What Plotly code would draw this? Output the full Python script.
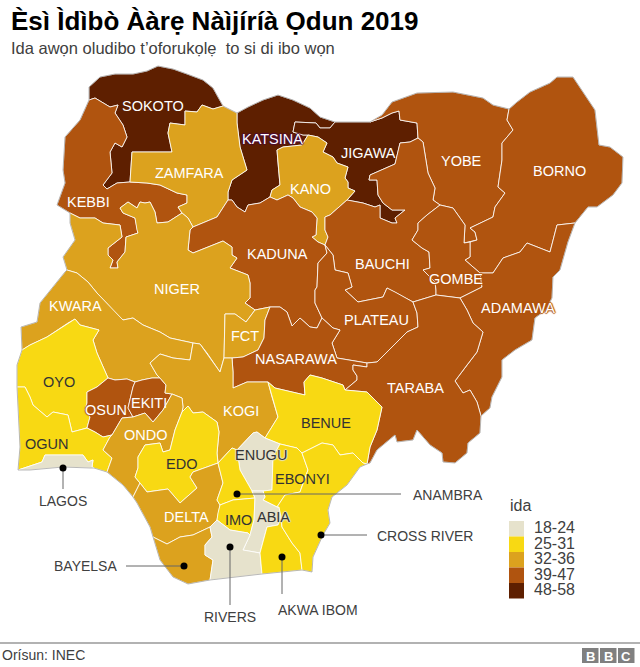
import plotly.graph_objects as go

# Borders are shared arcs in picture coordinates
def r(arc):
    return arc[::-1]

# outer border, clockwise from the north west
N_SOK = [(89,100),(89,87),(100,77),(115,74),(133,74),(147,71),(158,66),(173,69),(187,74),(203,80),(213,88),(223,106)]
N_ZAM = [(223,106),(229,109),(237,113)]
N_KAT = [(237,113),(248,107),(263,100),(278,95),(293,100),(310,108),(320,117),(335,122)]
N_JIG = [(335,122),(370,122)]
N_YOB = [(370,122),(382,115),(392,102),(417,93),(453,92),(483,98),(493,105),(509,109)]
E_BOR = [(509,109),(517,102),(530,92),(550,83),(557,77),(573,77),(583,92),(595,110),(599,145),(610,147),(623,157),(622,183),(613,195),(597,207),(588,207),(575,223)]
E_ADA = [(575,223),(568,242),(560,270),(553,277),(552,290),(552,298),(546,310),(535,318),(532,340),(515,350),(502,360),(502,377),(492,397),(490,408),(481,416)]
E_TAR = [(481,416),(480,433),(468,443),(467,453),(455,463),(443,462),(442,453),(430,445),(417,430),(413,440),(397,442),(395,435),(377,450),(370,463),(367,464)]
E_CRO = [(367,464),(360,467),(347,485),(332,497),(328,510),(330,523),(323,535),(313,557),(312,572)]
S_CRO = [(312,572),(302,570)]
S_AKW = [(302,570),(262,574)]
S_RIV = [(262,574),(237,577),(210,580)]
S_BAY = [(210,580),(188,584),(173,577),(160,560),(153,537)]
S_DEL = [(153,537),(150,527),(137,503),(133,497)]
S_OND = [(133,497),(123,485),(107,472)]
S_OGU = [(107,472),(94,468)]
S_LAG = [(94,468),(90,468),(63,467),(30,470),(18,470)]
W_OGU = [(18,470),(20,447),(17,387)]
W_OYO = [(17,387),(17,365),(22,350)]
W_KWA = [(22,350),(21,327),(37,322),(40,303),(65,272),(67,270)]
W_NIG = [(67,270),(63,257),(75,240),(70,223),(70,213)]
W_KEB = [(70,213),(57,205),(65,183),(63,170),(65,137),(80,120),(89,100)]

# inner borders
SOK_KEB = [(89,100),(95,98),(110,107),(118,105),(115,113),(123,125),(127,137),(122,147),(115,143),(110,152),(112,173),(103,185),(107,189),(117,183),(130,182)]
SOK_ZAM = [(130,182),(132,152),(172,152),(168,133),(170,123),(185,125),(185,111),(197,112),(202,105),(213,109),(223,106)]
KEB_ZAM = [(130,182),(147,183),(160,185),(177,193),(187,195),(187,203),(178,207),(182,213)]
KEB_NIG = [(182,213),(168,222),(157,223),(155,212),(150,202),(145,203),(140,202),(137,208),(128,202),(120,208),(123,213),(135,218),(137,230),(138,233),(126,237),(125,252),(117,262),(118,268),(110,268),(113,260),(108,255),(108,248),(122,237),(120,225),(103,223),(95,218),(80,218),(70,213)]
ZAM_NIG = [(182,213),(188,218),(193,227)]
ZAM_KAD = [(193,227),(217,217),(228,200)]
ZAM_KAT = [(237,113),(237,123),(240,147),(247,170),(232,180),(228,192),(228,200)]
KAT_JIG = [(335,122),(330,128),(320,128),(316,123),(295,122),(293,132),(303,135),(308,135)]
KAT_KAN = [(308,135),(302,145),(283,147),(277,150),(278,163),(280,185),(272,190),(270,197)]
KAT_KAD = [(270,197),(260,203),(248,205),(245,212),(237,207),(232,200),(228,200)]
KAN_JIG = [(308,135),(318,137),(327,143),(323,152),(333,157),(337,163),(348,167),(345,178),(348,182),(348,188),(355,191),(347,200)]
KAN_BAU = [(347,200),(330,215),(325,217),(325,230),(328,237),(325,245)]
KAN_KAD = [(325,245),(318,242),(312,237),(316,235),(317,218),(312,212),(300,207),(293,198),(288,195),(277,200),(270,197)]
JIG_BAU = [(347,200),(363,203),(375,207),(380,205),(380,218),(392,223),(397,223),(395,218),(405,210),(392,210),(383,203),(378,195),(377,180),(369,180),(370,175),(395,164),(400,143),(410,142),(418,138)]
JIG_YOB = [(370,122),(382,118),(392,113),(399,111),(400,120),(417,123),(418,138)]
YOB_BOR = [(509,109),(507,120),(513,130),(502,143),(502,160),(498,187),(505,193),(495,207),(493,217),(470,228),(475,232),(477,240),(470,242)]
YOB_GOM = [(470,242),(464,243),(465,225),(453,208),(440,205)]
YOB_BAU = [(440,205),(433,200),(435,188),(428,173),(423,142),(418,138)]
BOR_GOM = [(470,242),(470,257),(465,260),(480,273)]
BOR_ADA = [(480,273),(493,273),(503,258),(520,252),(527,243),(550,252),(557,225),(575,223)]
GOM_ADA = [(480,273),(482,287),(460,298)]
GOM_TAR = [(460,298),(436,295)]
GOM_BAU = [(436,295),(436,290),(435,282),(423,270),(430,268),(429,252),(422,248),(412,240),(418,230),(418,223),(427,215),(440,205)]
BAU_TAR = [(436,295),(413,302)]
BAU_PLA = [(413,302),(395,292),(387,288),(383,297),(358,302),(345,290),(352,287),(348,273),(335,270),(333,255),(325,245)]
PLA_TAR = [(413,302),(417,313),(418,327),(407,332),(397,342),(377,362),(367,363)]
PLA_NAS = [(367,363),(350,360),(337,358),(332,343),(340,330),(333,328),(322,318)]
PLA_KAD = [(322,318),(315,303),(315,290),(317,287),(318,263),(327,253),(325,245)]
KAD_NAS = [(322,318),(317,328),(310,327),(300,318),(292,326),(287,312),(280,307),(270,307)]
KAD_FCT = [(270,307),(255,310)]
KAD_NIG = [(255,310),(245,303),(250,298),(250,283),(248,275),(230,268),(237,258),(232,255),(232,247),(223,241),(213,245),(193,253),(188,250),(190,230),(193,227)]
FCT_NIG = [(255,310),(246,322),(235,314),(225,314),(224,358)]
FCT_KOG = [(224,358),(232,358)]
FCT_NAS = [(232,358),(243,357),(258,350),(264,338),(265,320),(270,307)]
NIG_KOG = [(224,358),(220,372),(207,353),(200,344),(193,343)]
NIG_KWA = [(193,343),(170,338),(160,332),(143,325),(133,318),(123,320),(113,310),(97,293),(88,282),(77,273),(67,270)]
KWA_KOG = [(193,343),(190,360),(173,358),(160,354),(150,363),(157,375),(160,378)]
KWA_EKI = [(160,378),(152,378),(142,380),(135,382)]
KWA_OSU = [(135,382),(127,379),(115,380),(108,378)]
OYO_KWA = [(108,378),(97,353),(93,340),(99,330),(80,325),(75,319),(68,323),(47,337),(30,345),(22,350)]
OYO_OSU = [(108,378),(97,387),(87,392),(87,403),(85,410),(90,417),(87,428)]
OGU_OYO = [(17,387),(25,387),(30,397),(33,405),(47,417),(53,412),(68,415),(72,432),(87,428)]
OSU_EKI = [(135,382),(133,387),(128,408),(133,417)]
OSU_OND = [(133,417),(122,418),(112,435)]
OSU_OGU = [(112,435),(103,437),(95,432),(87,428)]
EKI_OND = [(133,417),(145,413),(153,422),(163,410),(172,394)]
EKI_KOG = [(172,394),(165,393),(166,385),(160,378)]
OGU_OND = [(112,435),(110,437),(103,450),(112,458),(107,472)]
OGU_LAG = [(94,468),(92,467),(93,460),(88,462),(83,455),(45,455),(42,462),(18,470)]
OND_KOG = [(172,394),(182,398),(183,407),(182,412)]
OND_EDO = [(182,412),(180,417),(175,430),(170,450),(163,452),(160,443),(145,445),(138,457),(138,468),(135,477),(140,483)]
OND_DEL = [(140,483),(133,497)]
EDO_KOG = [(182,412),(188,406),(193,413),(203,412),(217,422),(219,432),(217,453),(218,463)]
EDO_DEL = [(218,463),(193,472),(190,477),(197,488),(180,503),(168,489),(147,492),(140,483)]
DEL_ANA = [(218,463),(223,483),(217,500),(220,505)]
DEL_IMO = [(220,505),(218,513),(217,520)]
DEL_RIV = [(217,520),(210,527)]
DEL_BAY = [(210,527),(193,535),(180,537),(167,544),(153,537)]
BAY_RIV = [(210,527),(212,537),(205,545),(205,555),(213,560),(210,580)]
IMO_RIV = [(217,520),(230,530),(248,533),(250,535)]
ABI_RIV = [(250,535),(243,550),(260,553)]
AKW_RIV = [(260,553),(262,574)]
ANA_IMO = [(220,505),(233,500),(255,498)]
IMO_ABI = [(255,498),(254,520),(250,535)]
KOG_ANA = [(218,463),(232,448),(237,450)]
ANA_ENU = [(237,450),(240,470),(252,491)]
ANA_ABI = [(252,491),(255,498)]
KOG_ENU = [(237,450),(253,433),(257,432),(265,438)]
ENU_BEN = [(265,438),(280,444)]
ENU_EBO = [(280,444),(273,457),(272,490),(263,491)]
ENU_ABI = [(263,491),(252,491)]
ABI_EBO = [(263,491),(265,497),(263,500),(277,507)]
ABI_CRO = [(277,507),(279,507),(281,517)]
ABI_AKW = [(281,517),(278,525),(267,527),(260,553)]
BEN_EBO = [(280,444),(297,448),(302,453)]
EBO_CRO = [(302,453),(308,470),(303,483),(300,492),(285,495),(283,498),(277,507)]
BEN_CRO = [(302,453),(322,443),(333,445),(340,455),(353,453),(363,463),(367,464)]
CRO_AKW = [(302,570),(300,553),(292,543),(282,527),(281,517)]
KOG_BEN = [(268,382),(272,397),(278,417),(265,438)]
NAS_BEN = [(268,382),(275,388),(305,395),(304,382),(310,375),(322,378),(343,385),(345,390)]
BEN_TAR = [(345,390),(367,392),(382,407),(377,430),(370,447),(367,464)]
NAS_TAR = [(367,363),(367,367),(353,365),(353,370),(357,376),(357,380),(345,390)]
KOG_NAS = [(268,382),(247,382),(233,388),(233,372),(232,358)]
ADA_TAR = [(460,298),(467,310),(473,323),(483,332),(477,352),(467,365),(455,381),(463,393),(470,390),(477,402),(481,416)]

STATES = ["SOKOTO","KATSINA","JIGAWA","KEBBI","ZAMFARA","KANO","YOBE","BORNO","KADUNA","BAUCHI","GOMBE","NIGER","KWARA",
          "FCT","PLATEAU","ADAMAWA","NASARAWA","TARABA","OYO","OSUN","EKITI","KOGI","BENUE","OGUN","ONDO","EDO","ENUGU",
          "EBONYI","LAGOS","DELTA","ANAMBRA","IMO","ABIA","BAYELSA","RIVERS","AKWA IBOM","CROSS RIVER"]
STATE_BANDS = ["48-58","48-58","48-58","39-47","32-36","32-36","39-47","39-47","39-47","39-47","39-47","32-36","32-36",
               "32-36","39-47","39-47","39-47","39-47","25-31","39-47","39-47","32-36","25-31","25-31","32-36","25-31","18-24",
               "25-31","18-24","32-36","25-31","25-31","18-24","32-36","18-24","25-31","25-31"]
BANDS = ["18-24","25-31","32-36","39-47","48-58"]
BAND_COLORS = ["#E6E2CC","#F8D913","#DCA21E","#B0540F","#5E1F00"]

RINGS = [
    N_SOK + r(SOK_ZAM) + r(SOK_KEB),
    N_KAT + KAT_JIG + KAT_KAN + KAT_KAD + r(ZAM_KAT),
    N_JIG + JIG_YOB + r(JIG_BAU) + r(KAN_JIG) + r(KAT_JIG),
    SOK_KEB + KEB_ZAM + KEB_NIG + W_KEB,
    N_ZAM + ZAM_KAT + r(ZAM_KAD) + r(ZAM_NIG) + r(KEB_ZAM) + SOK_ZAM,
    KAN_JIG + KAN_BAU + KAN_KAD + r(KAT_KAN),
    N_YOB + YOB_BOR + YOB_GOM + YOB_BAU + r(JIG_YOB),
    E_BOR + r(BOR_ADA) + r(BOR_GOM) + r(YOB_BOR),
    ZAM_KAD + r(KAT_KAD) + r(KAN_KAD) + r(PLA_KAD) + KAD_NAS + KAD_FCT + KAD_NIG,
    r(KAN_BAU) + JIG_BAU + r(YOB_BAU) + r(GOM_BAU) + BAU_TAR + BAU_PLA,
    r(YOB_GOM) + BOR_GOM + GOM_ADA + GOM_TAR + GOM_BAU,
    r(KEB_NIG) + ZAM_NIG + r(KAD_NIG) + FCT_NIG + NIG_KOG + NIG_KWA + W_NIG,
    W_KWA + r(NIG_KWA) + KWA_KOG + KWA_EKI + KWA_OSU + OYO_KWA,
    FCT_NIG + FCT_KOG + FCT_NAS + KAD_FCT,
    PLA_TAR + PLA_NAS + PLA_KAD + r(BAU_PLA),
    r(GOM_ADA) + BOR_ADA + E_ADA + r(ADA_TAR),
    FCT_NAS + r(KAD_NAS) + r(PLA_NAS) + NAS_TAR + r(NAS_BEN) + KOG_NAS,
    GOM_TAR + BAU_TAR + PLA_TAR + NAS_TAR + BEN_TAR + r(E_TAR) + r(ADA_TAR),
    W_OYO + r(OYO_KWA) + OYO_OSU + r(OGU_OYO),
    r(KWA_OSU) + OSU_EKI + OSU_OND + OSU_OGU + r(OYO_OSU),
    KWA_EKI + OSU_EKI + EKI_OND + EKI_KOG,
    r(FCT_KOG) + NIG_KOG + KWA_KOG + r(EKI_KOG) + OND_KOG + EDO_KOG + KOG_ANA + KOG_ENU + r(KOG_BEN) + KOG_NAS,
    NAS_BEN + BEN_TAR + r(BEN_CRO) + r(BEN_EBO) + r(ENU_BEN) + r(KOG_BEN),
    OGU_OYO + r(OSU_OGU) + OGU_OND + S_OGU + OGU_LAG + W_OGU,
    r(OSU_OND) + EKI_OND + OND_KOG + OND_EDO + OND_DEL + S_OND + r(OGU_OND),
    EDO_KOG + EDO_DEL + r(OND_EDO),
    KOG_ENU + ENU_BEN + ENU_EBO + ENU_ABI + r(ANA_ENU),
    BEN_EBO + EBO_CRO + r(ABI_EBO) + r(ENU_EBO),
    r(OGU_LAG) + S_LAG,
    r(EDO_DEL) + DEL_ANA + DEL_IMO + DEL_RIV + DEL_BAY + S_DEL + r(OND_DEL),
    KOG_ANA + ANA_ENU + ANA_ABI + r(ANA_IMO) + r(DEL_ANA),
    ANA_IMO + IMO_ABI + r(IMO_RIV) + r(DEL_IMO),
    r(ENU_ABI) + ABI_EBO + ABI_CRO + ABI_AKW + r(ABI_RIV) + r(IMO_ABI) + r(ANA_ABI),
    r(DEL_BAY) + BAY_RIV + S_BAY,
    IMO_RIV + ABI_RIV + AKW_RIV + S_RIV + r(BAY_RIV) + r(DEL_RIV),
    r(CRO_AKW) + S_AKW + r(AKW_RIV) + r(ABI_AKW),
    BEN_CRO + E_CRO + S_CRO + CRO_AKW + r(ABI_CRO) + r(EBO_CRO),
]
OUTLINE = (N_SOK + N_ZAM + N_KAT + N_JIG + N_YOB + E_BOR + E_ADA + E_TAR + E_CRO + S_CRO + S_AKW + S_RIV
           + S_BAY + S_DEL + S_OND + S_OGU + S_LAG + W_OGU + W_OYO + W_KWA + W_NIG + W_KEB)

# labels sitting on the map: name, x, y, text colour, halo colour
WHITE = "#ffffff"
DARK = "#333333"
MAP_LABELS = [
    ("SOKOTO",153,106,WHITE,None),("KATSINA",272,139,WHITE,"#4a0a3a"),("JIGAWA",368,153,WHITE,None),
    ("KEBBI",88,202,WHITE,None),("ZAMFARA",189,173,WHITE,None),("KANO",310,189,WHITE,None),
    ("YOBE",461,161,WHITE,None),("BORNO",559,171,WHITE,None),("KADUNA",277,254,WHITE,None),
    ("BAUCHI",382,264,WHITE,None),("GOMBE",456,279,WHITE,"#B0540F"),("NIGER",177,289,WHITE,None),
    ("KWARA",75,306,WHITE,None),("FCT",245,336,WHITE,None),("PLATEAU",376,320,WHITE,None),
    ("ADAMAWA",518,308,WHITE,"#B0540F"),("NASARAWA",296,359,WHITE,None),("TARABA",415,388,WHITE,None),
    ("OYO",59,382,DARK,None),("OSUN",106,410,WHITE,"#B0540F"),("EKITI",149,403,WHITE,None),
    ("KOGI",241,411,WHITE,None),("BENUE",326,423,DARK,None),("OGUN",47,444,DARK,None),
    ("ONDO",146,435,WHITE,None),("EDO",181,464,DARK,None),("ENUGU",261,455,DARK,"#E6E2CC"),
    ("EBONYI",302,479,DARK,None),("DELTA",186,517,WHITE,None),("IMO",238,520,DARK,None),("ABIA",273,517,DARK,"#E6E2CC"),
]

# callouts: name, dot x, dot y, line end x, line end y, label anchor x, label y, anchor
CALLOUT_NAMES = ["LAGOS","ANAMBRA","BAYELSA","RIVERS","AKWA IBOM","CROSS RIVER"]
CALLOUT_DOTS = [(63,468),(237,494),(184,566),(230,547),(282,557),(321,535)]
CALLOUT_ENDS = [(63,489),(401,494),(126,566),(230,605),(282,594),(367,535)]
CALLOUT_TEXT = [(63,501,"center"),(412,495,"left"),(53,566,"left"),(230,617,"center"),(277,610,"left"),(376,536,"left")]

fig = go.Figure()

for name, band, ring in zip(STATES, STATE_BANDS, RINGS):
    fig.add_trace(go.Scatter(
        x=[p[0] for p in ring], y=[p[1] for p in ring], name=name, mode="lines",
        fill="toself", fillcolor=BAND_COLORS[BANDS.index(band)],
        line=dict(color="white", width=0.8), hoverinfo="name",
    ))

# thin grey edge round the whole country
fig.add_trace(go.Scatter(x=[p[0] for p in OUTLINE], y=[p[1] for p in OUTLINE], mode="lines",
                         line=dict(color="#8c8c8c", width=0.6), hoverinfo="skip"))

for (x0, y0), (x1, y1) in zip(CALLOUT_DOTS, CALLOUT_ENDS):
    fig.add_trace(go.Scatter(x=[x0, x1], y=[y0, y1], mode="lines",
                             line=dict(color="#666666", width=1), hoverinfo="skip"))
fig.add_trace(go.Scatter(x=[p[0] for p in CALLOUT_DOTS], y=[p[1] for p in CALLOUT_DOTS], mode="markers",
                         marker=dict(color="black", size=7), hoverinfo="skip"))

FONT = "Liberation Sans, Arial, sans-serif"
annotations = []
def add_text(x, y, text, size, color, anchor="left", bold=False, shadow=None):
    font = dict(family=FONT, size=size, color=color, weight="bold" if bold else "normal")
    if shadow:
        font["shadow"] = shadow
    annotations.append(dict(x=x, y=y, xref="x", yref="y", text=text, showarrow=False, font=font,
                            xanchor=anchor, yanchor="middle", borderpad=0))

add_text(10, 21, "Èsì Ìdìbò Ààrẹ Nàìjíríà Ọdun 2019", 26, "#000000", bold=True)
add_text(10, 48, "Ida awọn oludibo t’oforukọlẹ \u00a0to si di ibo wọn", 16.5, "#404040")

for name, x, y, color, halo in MAP_LABELS:
    shadow = None
    if halo:
        shadow = f"1px 0 1px {halo}, -1px 0 1px {halo}, 0 1px 1px {halo}, 0 -1px 1px {halo}"
    add_text(x, y, name, 14.5, color, anchor="center", shadow=shadow)

for name, (x, y, anchor) in zip(CALLOUT_NAMES, CALLOUT_TEXT):
    add_text(x, y, name, 14, "#404040", anchor=anchor)

# legend
add_text(509, 505, "ida", 16, "#404040")
shapes = []
for i, (band, color) in enumerate(zip(BANDS, BAND_COLORS)):
    y0 = 521 + i * 15.5
    shapes.append(dict(type="rect", x0=509, x1=524, y0=y0, y1=y0 + 15.5, fillcolor=color, line_width=0, layer="above"))
    add_text(533, y0 + 6.5, band, 16, "#404040")

# footer
shapes.append(dict(type="line", x0=0, x1=640, y0=643, y1=643, line=dict(color="#999999", width=1.5)))
add_text(1, 655, "Orísun: INEC", 14, "#404040")
for x0, letter in zip([582, 600, 618], "BBC"):
    shapes.append(dict(type="rect", x0=x0, x1=x0 + 16.5, y0=648, y1=663, fillcolor="#808080", line_width=0))
    add_text(x0 + 8.25, 656, letter, 13, "white", anchor="center", bold=True)

fig.update_layout(
    width=640, height=667, margin=dict(l=0, r=0, t=0, b=0),
    plot_bgcolor="white", paper_bgcolor="white", showlegend=False,
    xaxis=dict(range=[0, 640], visible=False, fixedrange=True),
    yaxis=dict(range=[667, 0], visible=False, fixedrange=True),
    annotations=annotations, shapes=shapes,
)

fig.write_html("out.html", config={"displayModeBar": False}, post_script="document.body.style.margin='0';")
